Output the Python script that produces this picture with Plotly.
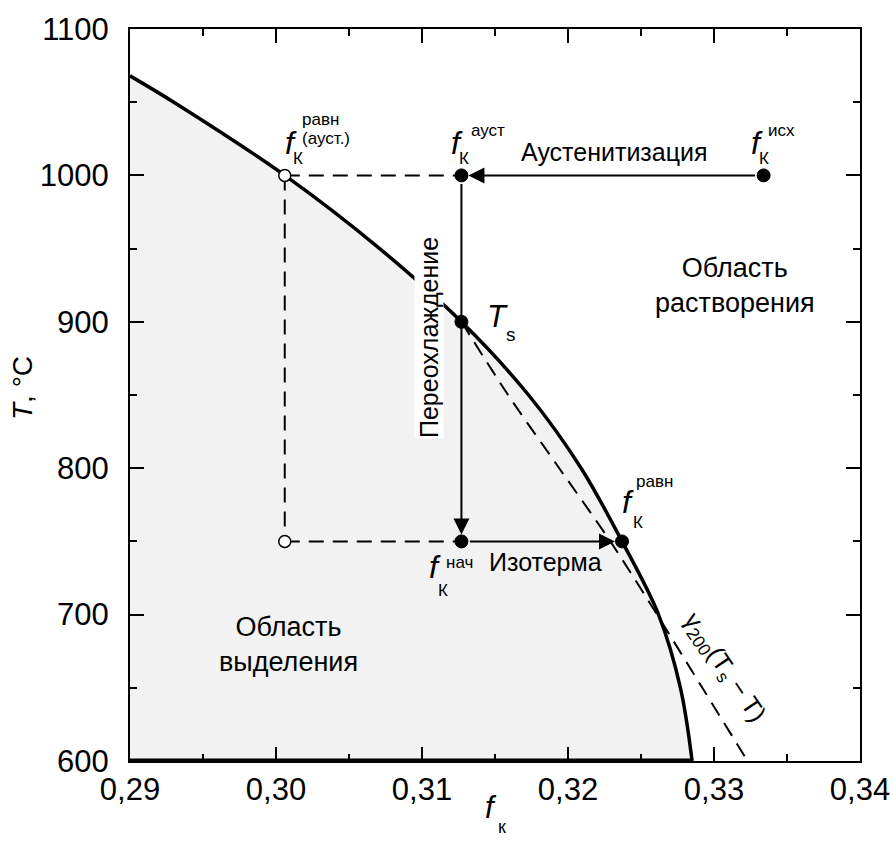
import plotly.graph_objects as go

# ---------------- data ----------------
# equilibrium solubility curve (solid)
T_eq = [1068, 1050, 1000, 950, 900, 850, 800, 750, 700, 650, 600]
f_eq = [0.2900, 0.2930, 0.3006, 0.3071, 0.3127, 0.3173, 0.3209, 0.3237, 0.3262, 0.3277, 0.3285]

# gamma_200(Ts - T) curve (dashed)
T_gam = [900, 850, 800, 750, 700, 650, 600]
f_gam = [0.3127, 0.3159, 0.3194, 0.3229, 0.3261, 0.3292, 0.3323]

# characteristic points
f_init = 0.3334      # f_K^исх
f_aust = 0.3127      # f_K^ауст = f_K^нач
f_eq_aust = 0.3006   # f_K^равн(ауст.)
f_eq_iso = 0.3237    # f_K^равн
T_aust = 1000
T_s = 900
T_iso = 750

x_ticks = [0.29, 0.30, 0.31, 0.32, 0.33, 0.34]
x_ticklabels = ["0,29", "0,30", "0,31", "0,32", "0,33", "0,34"]
y_ticks = [600, 700, 800, 900, 1000, 1100]
y_ticklabels = ["600", "700", "800", "900", "1000", "1100"]

FONT = "Liberation Sans, Arial"
FILL = "#f2f2f2"
DASH = "15px,9px"

fig = go.Figure()

# shaded region + equilibrium curve
fig.add_trace(go.Scatter(x=f_eq, y=T_eq, mode="lines", line=dict(color="black", width=3.5, shape="spline"),
                         fill="tozeroy", fillcolor=FILL, hoverinfo="skip"))
# bottom edge of shaded region
fig.add_trace(go.Scatter(x=[f_eq[0], f_eq[-1]], y=[T_eq[-1], T_eq[-1]], mode="lines",
                         line=dict(color="black", width=5), hoverinfo="skip"))
# gamma curve
fig.add_trace(go.Scatter(x=f_gam, y=T_gam, mode="lines",
                         line=dict(color="black", width=2, dash=DASH, shape="spline"), hoverinfo="skip"))
# dashed construction lines
dash = dict(color="black", width=2, dash=DASH)
fig.add_trace(go.Scatter(x=[f_eq_aust, f_aust], y=[T_aust, T_aust], mode="lines", line=dash, hoverinfo="skip"))
fig.add_trace(go.Scatter(x=[f_eq_aust, f_eq_aust], y=[T_aust, T_iso], mode="lines", line=dash, hoverinfo="skip"))
fig.add_trace(go.Scatter(x=[f_eq_aust, f_aust], y=[T_iso, T_iso], mode="lines", line=dash, hoverinfo="skip"))

# markers
fig.add_trace(go.Scatter(x=[f_eq_aust, f_eq_aust], y=[T_aust, T_iso], mode="markers",
                         marker=dict(size=12, color="white", line=dict(color="black", width=1.5)), hoverinfo="skip"))
fig.add_trace(go.Scatter(x=[f_aust, f_init, f_aust, f_aust, f_eq_iso], y=[T_aust, T_aust, T_s, T_iso, T_iso],
                         mode="markers", marker=dict(size=13, color="black", line=dict(color="black", width=1)),
                         hoverinfo="skip"))

X0, X1, Y0, Y1 = 130, 860, 29, 761


def px(x):
    return (x - X0) / (X1 - X0)


def py(y):
    return (Y1 - y) / (Y1 - Y0)


ann = []
# arrows
for (x0, y0, x1, y1) in [(f_init, T_aust, f_aust, T_aust), (f_aust, T_aust, f_aust, T_iso),
                         (f_aust, T_iso, f_eq_iso, T_iso)]:
    ann.append(dict(x=x1, y=y1, ax=x0, ay=y0, xref="x", yref="y", axref="x", ayref="y", text="",
                    showarrow=True, arrowhead=2, arrowsize=1.6, arrowwidth=2, arrowcolor="black",
                    standoff=7, startstandoff=7))


def text(xp, yp, s, size=25, angle=0, bg=None, xanchor="center"):
    d = dict(x=px(xp), y=py(yp), xref="paper", yref="paper", text=s, showarrow=False,
             font=dict(family=FONT, size=size, color="black"), textangle=angle,
             xanchor=xanchor, yanchor="middle", borderpad=0)
    if bg:
        d["bgcolor"] = bg
    ann.append(d)


text(614, 152, "Аустенитизация", size=25)
text(735, 285, "Область<br>растворения", size=27)
text(288, 644, "Область<br>выделения", size=27)
text(545, 562, "Изотерма", size=25)
text(429, 338, "Переохлаждение", size=25, angle=-90, bg="white")
text(724, 668, "γ<sub>200</sub>(T<sub>s</sub> − T)", size=25, angle=56)

F_SIZE, S_SIZE, K_SIZE = 32, 17, 17

# f labels: f centre, K subscript, superscript, optional second subscript
def flabel(f_c, k_c, sup_c, sup, sub2=None, sub2_c=None):
    text(f_c[0], f_c[1] - 3, "<i>f</i>", size=F_SIZE)
    text(k_c[0], k_c[1] - 1, "К", size=K_SIZE, xanchor="left")
    text(sup_c[0], sup_c[1] - 1, sup, size=S_SIZE, xanchor="left")
    if sub2:
        text(sub2_c[0], sub2_c[1] - 1, sub2, size=S_SIZE, xanchor="left")


flabel((291, 146), (292, 160), (301, 121), "равн", "(ауст.)", (301, 139))
flabel((457, 146), (458, 159), (470, 131), "ауст")
flabel((757, 146), (758, 159), (767, 131), "исх")
flabel((628, 505), (632, 523), (635, 482), "равн")
flabel((435, 570), (437, 591), (445, 563), "нач")

# T_s
text(497, 316, "<i>T</i>", size=31)
text(505, 334, "s", size=19, xanchor="left")

# axis titles
text(22, 388, "<i>T</i>, °C", size=28, angle=-90)
text(491, 807, "<i>f</i>", size=31)
text(497, 827, "к", size=18, xanchor="left")

fig.update_layout(
    width=893, height=843,
    margin=dict(l=X0, r=893 - X1, t=Y0, b=843 - Y1, autoexpand=False),
    paper_bgcolor="white", plot_bgcolor="white",
    showlegend=False,
    annotations=ann,
    font=dict(family=FONT, color="black"),
)
axis_common = dict(showline=True, linewidth=2, linecolor="black", mirror="ticks", ticks="inside",
                   ticklen=14, tickwidth=2, tickcolor="black", showgrid=False, zeroline=False,
                   automargin=False, tickfont=dict(family=FONT, size=31, color="black"))
fig.update_xaxes(range=[0.29, 0.34], tickmode="array", tickvals=x_ticks, ticktext=x_ticklabels,
                 ticklabelstandoff=0,
                 minor=dict(ticks="inside", dtick=0.005, tick0=0.29, ticklen=7, tickwidth=2, tickcolor="black"),
                 **axis_common)
fig.update_yaxes(range=[600, 1100], tickmode="array", tickvals=y_ticks, ticktext=y_ticklabels,
                 ticklabelstandoff=13,
                 minor=dict(ticks="inside", dtick=50, tick0=600, ticklen=7, tickwidth=2, tickcolor="black"),
                 **axis_common)

fig.write_html("out.html", config={"displayModeBar": False, "staticPlot": True},
               post_script="document.body.style.margin='0';document.body.style.overflow='hidden';")
